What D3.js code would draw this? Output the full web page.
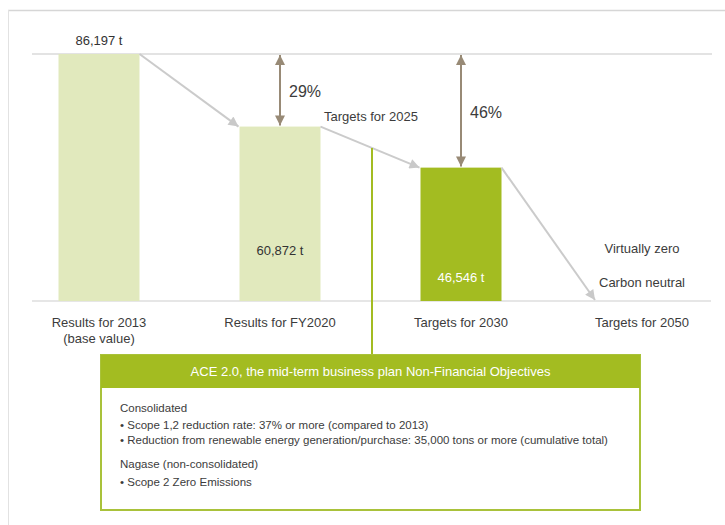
<!DOCTYPE html>
<html>
<head>
<meta charset="utf-8">
<script src="https://cdn.jsdelivr.net/npm/d3@7"></script>
<style>
  body { margin: 0; background: #fff; }
  svg text { font-family: "Liberation Sans", Arial, sans-serif; fill: #3c3c3c; }
</style>
</head>
<body>
<div id="chart"></div>
<script>
// 数据
const categories = ['Results for 2013', 'Results for FY2020', 'Targets for 2030', 'Targets for 2050'];
const subLabels = ['(base value)', '', '', ''];
const values = [86197, 60872, 46546, 0];
const valueLabels = ['86,197 t', '60,872 t', '46,546 t', ''];
const reductions = [null, '29%', '46%', null];
const endNotes = ['Virtually zero', 'Carbon neutral'];
const boxTitle = 'ACE 2.0, the mid-term business plan Non-Financial Objectives';
const boxLines = [
    { text: 'Consolidated', gap: 0 },
    { text: '\u2022 Scope 1,2 reduction rate: 37% or more (compared to 2013)', gap: 17 },
    { text: '\u2022 Reduction from renewable energy generation/purchase: 35,000 tons or more (cumulative total)', gap: 15 },
    { text: 'Nagase (non-consolidated)', gap: 24 },
    { text: '\u2022 Scope 2 Zero Emissions', gap: 18 }
];

const W = 725, H = 525;
const barW = 81;

const svg = d3.select('#chart').append('svg')
    .attr('width', W)
    .attr('height', H);

// 箭头标记
const defs = svg.append('defs');
function marker(id, color, w, h) {
    defs.append('marker')
        .attr('id', id)
        .attr('viewBox', '0 -5 10 10')
        .attr('refX', 10)
        .attr('refY', 0)
        .attr('markerWidth', w)
        .attr('markerHeight', h)
        .attr('markerUnits', 'userSpaceOnUse')
        .attr('orient', 'auto-start-reverse')
        .append('path')
        .attr('d', 'M0,-5L10,0L0,5Z')
        .attr('fill', color);
}
marker('greyHead', '#c9c9c9', 12, 10);
marker('brownHead', '#988a76', 11, 10);

// 外框
svg.append('line').attr('x1', 8).attr('x2', W).attr('y1', 10.5).attr('y2', 10.5)
    .attr('stroke', '#d6d6d6').attr('stroke-width', 1.5);
svg.append('line').attr('x1', 8.5).attr('x2', 8.5).attr('y1', 10).attr('y2', H)
    .attr('stroke', '#e2e2e2').attr('stroke-width', 1);

// 比例尺
const x = d3.scalePoint().domain(categories).range([99, 642]);
const y = d3.scaleLinear().domain([0, values[0]]).range([301, 54]);

// 基准线和顶部线
svg.append('line').attr('x1', 32).attr('x2', 712).attr('y1', y(values[0])).attr('y2', y(values[0]))
    .attr('stroke', '#e3e3e3').attr('stroke-width', 2);
svg.append('line').attr('x1', 32).attr('x2', 711).attr('y1', y(0)).attr('y2', y(0))
    .attr('stroke', '#dedede').attr('stroke-width', 1.5);

// 柱子
const barColors = ['#e1e9bd', '#e1e9bd', '#a3bc21'];
svg.selectAll('.bar')
    .data(values.slice(0, 3))
    .enter()
    .append('rect')
    .attr('class', 'bar')
    .attr('x', (d, i) => x(categories[i]) - barW / 2)
    .attr('y', d => y(d))
    .attr('width', barW)
    .attr('height', d => y(0) - y(d))
    .attr('fill', (d, i) => barColors[i]);

// 数值标签
const labelOffset = [-13, 124, 110];
svg.selectAll('.vlabel')
    .data(values.slice(0, 3))
    .enter()
    .append('text')
    .attr('class', 'vlabel')
    .attr('x', (d, i) => x(categories[i]))
    .attr('y', (d, i) => y(d) + labelOffset[i] + 4)
    .attr('text-anchor', 'middle')
    .attr('font-size', '13px')
    .style('fill', (d, i) => i === 2 ? '#ffffff' : '#333')
    .text((d, i) => valueLabels[i]);

// 灰色连接箭头
const links = [];
for (let i = 0; i < 3; i++) {
    const x1 = x(categories[i]) + barW / 2;
    const y1 = y(values[i]);
    const x2 = i < 2 ? x(categories[i + 1]) - barW / 2 - 1 : x(categories[3]) - 47;
    const y2 = i < 2 ? y(values[i + 1]) : y(0) - 1;
    links.push({ x1, y1, x2, y2 });
}
svg.selectAll('.link')
    .data(links)
    .enter()
    .append('line')
    .attr('class', 'link')
    .attr('x1', d => d.x1).attr('y1', d => d.y1)
    .attr('x2', d => d.x2).attr('y2', d => d.y2)
    .attr('stroke', '#cbcbcb')
    .attr('stroke-width', 2)
    .attr('marker-end', 'url(#greyHead)');

// 减排箭头
const redIdx = reductions.map((r, i) => r ? i : -1).filter(i => i >= 0);
svg.selectAll('.red')
    .data(redIdx)
    .enter()
    .append('line')
    .attr('class', 'red')
    .attr('x1', i => x(categories[i])).attr('x2', i => x(categories[i]))
    .attr('y1', y(values[0]) + 1)
    .attr('y2', i => y(values[i]) - 1)
    .attr('stroke', '#988a76')
    .attr('stroke-width', 2)
    .attr('marker-start', 'url(#brownHead)')
    .attr('marker-end', 'url(#brownHead)');

const redLabelY = [0, 97, 118];
svg.selectAll('.redlabel')
    .data(redIdx)
    .enter()
    .append('text')
    .attr('class', 'redlabel')
    .attr('x', i => x(categories[i]) + 9)
    .attr('y', i => redLabelY[i])
    .attr('font-size', '16px')
    .text(i => reductions[i]);

// 2025 目标
svg.append('text')
    .attr('x', 324).attr('y', 121)
    .attr('font-size', '13px')
    .text('Targets for 2025');
svg.append('line')
    .attr('x1', 372).attr('x2', 372).attr('y1', 148).attr('y2', 356)
    .attr('stroke', '#a3bc21').attr('stroke-width', 2);

// 2050
svg.selectAll('.note')
    .data(endNotes)
    .enter()
    .append('text')
    .attr('class', 'note')
    .attr('x', x(categories[3]))
    .attr('y', (d, i) => 253 + i * 34)
    .attr('text-anchor', 'middle')
    .attr('font-size', '13px')
    .text(d => d);

// 类别标签
const cat = svg.selectAll('.cat')
    .data(categories)
    .enter()
    .append('text')
    .attr('class', 'cat')
    .attr('x', d => x(d))
    .attr('y', 327)
    .attr('text-anchor', 'middle')
    .attr('font-size', '13px');
cat.append('tspan').text(d => d);
cat.append('tspan')
    .attr('x', d => x(d))
    .attr('dy', 16)
    .text((d, i) => subLabels[i]);

// 目标框
const box = { x: 101, y: 355, w: 539, h: 155, head: 33 };
svg.append('rect')
    .attr('x', box.x).attr('y', box.y)
    .attr('width', box.w).attr('height', box.h)
    .attr('fill', '#fff')
    .attr('stroke', '#a9c23a').attr('stroke-width', 2);
svg.append('rect')
    .attr('x', box.x).attr('y', box.y)
    .attr('width', box.w).attr('height', box.head)
    .attr('fill', '#a3bc21');
svg.append('text')
    .attr('x', box.x + box.w / 2).attr('y', box.y + 21)
    .attr('text-anchor', 'middle')
    .attr('font-size', '13px')
    .style('fill', '#fff')
    .text(boxTitle);

let ly = 412;
svg.selectAll('.bline')
    .data(boxLines)
    .enter()
    .append('text')
    .attr('class', 'bline')
    .attr('x', 120)
    .attr('y', d => { ly += d.gap; return ly; })
    .attr('font-size', '11.5px')
    .text(d => d.text);
</script>
</body>
</html>
